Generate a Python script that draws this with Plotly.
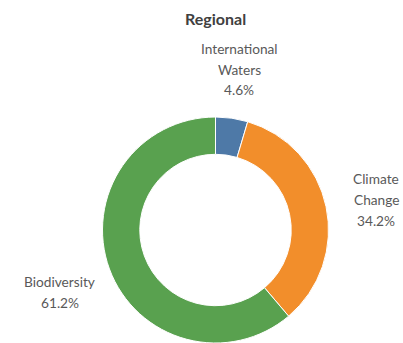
import plotly.graph_objects as go

categories = ["International Waters", "Climate Change", "Biodiversity"]
shares = [4.6, 34.2, 61.2]
label_lines = [["International", "Waters"], ["Climate", "Change"], ["Biodiversity"]]
colors = ["#4E79A7", "#F28E2B", "#59A14F"]
title_text = "Regional"

W, H = 403, 343

fig = go.Figure(go.Pie(
    labels=categories,
    values=shares,
    hole=0.67,
    sort=False,
    direction="clockwise",
    rotation=0,
    textinfo="none",
    marker=dict(colors=colors, line=dict(color="white", width=1)),
    domain=dict(x=[102 / W, 329 / W], y=[0, 226 / H]),
    showlegend=False,
))

# label block anchors (pixel centers of first line) and line spacing
anchors = [(239, 48), (376, 178), (60, 281)]
line_gap = 21
font = dict(family="Lato", size=13.7, color="#595959")
for lines, share, (ax, ay) in zip(label_lines, shares, anchors):
    texts = lines + [f"{share:.1f}%"]
    for i, t in enumerate(texts):
        fig.add_annotation(
            x=ax / W, y=1 - (ay + i * line_gap) / H, xref="paper", yref="paper",
            text=t, showarrow=False, font=font, xanchor="center", yanchor="middle",
        )

fig.add_annotation(
    x=216 / W, y=1 - 18 / H, xref="paper", yref="paper",
    text=f"<b>{title_text}</b>", showarrow=False,
    font=dict(family="Lato", size=16, color="#404040"),
    xanchor="center", yanchor="middle",
)

fig.update_layout(
    width=W, height=H,
    margin=dict(l=0, r=0, t=0, b=0),
    paper_bgcolor="white", plot_bgcolor="white",
)
fig.write_html(
    "out.html",
    config={"displayModeBar": False},
    post_script="document.body.style.margin='0';",
)
